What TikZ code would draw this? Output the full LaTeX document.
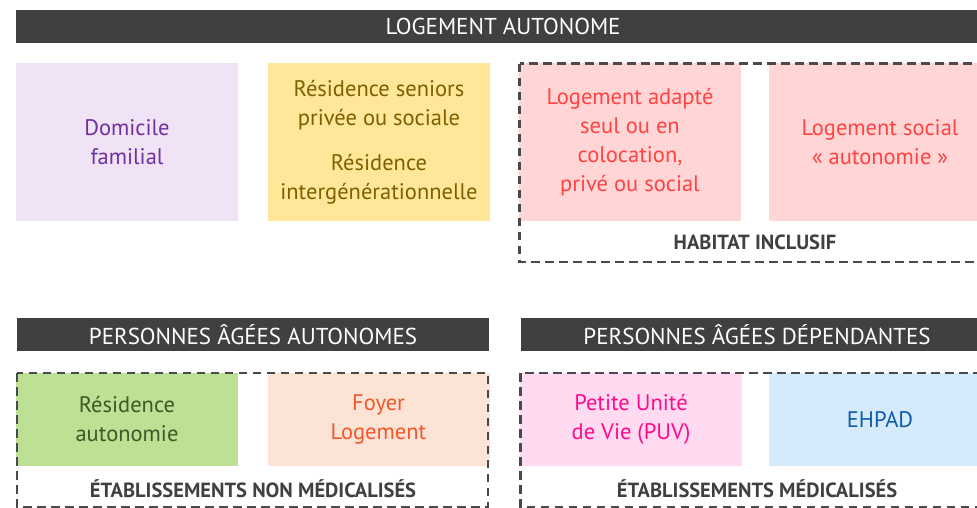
\documentclass[tikz,border=0pt]{standalone}
\usepackage{fontspec}
\setmainfont{PT Sans}
\usetikzlibrary{positioning}

\definecolor{bannergray}{HTML}{404040}
\definecolor{framegray}{HTML}{4A4A4A}
\definecolor{lilacfill}{HTML}{EFE3F5}
\definecolor{lilactext}{HTML}{7030A0}
\definecolor{yellowfill}{HTML}{FFE699}
\definecolor{yellowtext}{HTML}{7F6000}
\definecolor{pinkfill}{HTML}{FFD5D5}
\definecolor{pinktext}{HTML}{FF4343}
\definecolor{greenfill}{HTML}{BDE095}
\definecolor{greentext}{HTML}{3A5A26}
\definecolor{peachfill}{HTML}{FBE4D6}
\definecolor{peachtext}{HTML}{F4562A}
\definecolor{rosefill}{HTML}{FFDAF0}
\definecolor{rosetext}{HTML}{FF0A8C}
\definecolor{bluefill}{HTML}{D5EAFA}
\definecolor{bluetext}{HTML}{0E5CAB}

\begin{document}
\begin{tikzpicture}[x=1pt, y=-1pt,
  banner/.style={fill=bannergray, text=white, minimum height=33pt, inner sep=0pt,
    font=\fontsize{23}{26}\selectfont},
  cell/.style={minimum width=222pt, minimum height=158pt, inner sep=0pt, align=center,
    font=\fontsize{22.5}{29}\selectfont},
  lowcell/.style={cell, minimum height=93pt},
  frame/.style={draw=framegray, line width=2.8pt, dash pattern=on 8.5pt off 5.5pt},
  framelabel/.style={text=bannergray, font=\fontsize{20.5}{24}\selectfont\bfseries}]
  \path[use as bounding box, clip] (0,0) rectangle (977,507);

  % ----- Top: Logement autonome -----
  \node[banner, minimum width=974pt] (logement) at (503,26.5) {LOGEMENT AUTONOME};

  \node[cell, fill=lilacfill, text=lilactext] (domicile) at (127,142) {Domicile\\familial};
  \node[cell, fill=yellowfill, text=yellowtext] (residence) at (379,142)
    {Résidence seniors\\privée ou sociale\\[16pt]Résidence\\intergénérationnelle};
  \node[cell, fill=pinkfill, text=pinktext] (adapte) at (630,142)
    {Logement adapté\\seul ou en\\colocation,\\privé ou social};
  \node[cell, fill=pinkfill, text=pinktext] (social) at (880,142)
    {Logement social\\« autonomie »};

  % Habitat inclusif frame
  \draw[frame] (519.5,63.5) rectangle (995,262);
  \node[framelabel] (inclusif) at (755,242) {HABITAT INCLUSIF};

  % ----- Bottom left: personnes autonomes -----
  \node[banner, minimum width=472pt] (autonomes) at (253,334.5) {PERSONNES ÂGÉES AUTONOMES};
  \node[lowcell, fill=greenfill, text=greentext] (resautonomie) at (127,419.5) {Résidence\\autonomie};
  \node[lowcell, fill=peachfill, text=peachtext] (foyer) at (378.5,419.5) {Foyer\\Logement};
  \draw[frame] (17,373) rectangle (488,507);
  \node[framelabel] (nonmedic) at (253,489) {ÉTABLISSEMENTS NON MÉDICALISÉS};

  % ----- Bottom right: personnes dependantes -----
  \node[banner, minimum width=472pt] (dependantes) at (757,334.5) {PERSONNES ÂGÉES DÉPENDANTES};
  \node[lowcell, fill=rosefill, text=rosetext] (puv) at (631,419.5) {Petite Unité\\de Vie (PUV)};
  \node[lowcell, fill=bluefill, text=bluetext] (ehpad) at (880,419.5) {EHPAD};
  \draw[frame] (520.5,373) rectangle (995,507);
  \node[framelabel] (medic) at (757,489) {ÉTABLISSEMENTS MÉDICALISÉS};
\end{tikzpicture}
\end{document}
